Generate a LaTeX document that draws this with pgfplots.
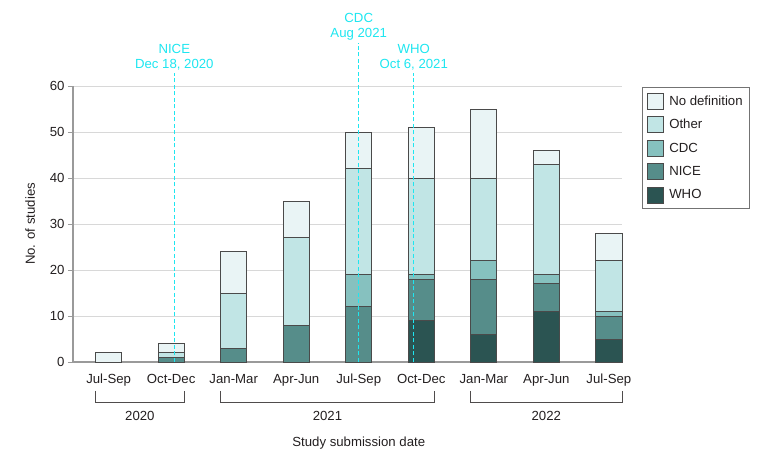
\documentclass[border=0pt]{standalone}
\usepackage{fontspec}
\setmainfont{Liberation Sans}
\usepackage{pgfplots}
\pgfplotsset{compat=1.18}
\usepackage{pgfplotstable}

\definecolor{cWHO}{HTML}{2B5452}
\definecolor{cNICE}{HTML}{568D8A}
\definecolor{cCDC}{HTML}{86C1BF}
\definecolor{cOther}{HTML}{C1E5E5}
\definecolor{cND}{HTML}{E9F4F5}
\definecolor{annot}{RGB}{30,230,240}
\definecolor{axisgray}{HTML}{9A9A9A}
\definecolor{gridgray}{HTML}{D8D8D8}
\definecolor{bargray}{HTML}{4A4A4A}
\definecolor{txt}{HTML}{231F20}

% counts per quarter, stacked bottom to top
\pgfplotstableread{
x WHO NICE CDC Other ND
0 0 0 0 0 2
1 0 1 0 1 2
2 0 3 0 12 9
3 0 8 0 19 8
4 0 12 7 23 8
5 9 9 1 21 11
6 6 12 4 18 15
7 11 6 2 24 3
8 5 5 1 11 6
}\studies

\newcommand{\lbl}{\fontsize{13.2bp}{15.5bp}\selectfont}

\begin{document}
\begin{tikzpicture}
\begin{axis}[
    at={(0,0)}, anchor=south west,
    scale only axis, width=549bp, height=276bp,
    xmin=-0.57, xmax=8.21, ymin=0, ymax=60,
    ybar stacked, bar width=0.42,
    axis x line=bottom, axis y line=left,
    axis line style={-, draw=axisgray, line width=1.6bp},
    xtick={0,...,8},
    xticklabels={Jul-Sep,Oct-Dec,Jan-Mar,Apr-Jun,Jul-Sep,Oct-Dec,Jan-Mar,Apr-Jun,Jul-Sep},
    x tick style={draw=none},
    xticklabel style={yshift=-3.5bp},
    ytick={0,10,...,60},
    y tick style={draw=axisgray, line width=1bp},
    tick align=outside, major tick length=5bp,
    ymajorgrids, grid style={draw=gridgray, line width=0.9bp},
    font=\lbl, text=txt,
    /pgf/number format/assume math mode=true,
    clip=false,
    reverse legend,
    legend style={at={(1.0364,0.9964)}, anchor=north west, draw=black!55,
        line width=0.9bp, row sep=6.6bp, inner xsep=5bp, inner ysep=5.5bp,
        font=\lbl, cells={anchor=west}},
    legend image code/.code={\draw[#1, line width=0.8bp] (0bp,-8bp) rectangle (16bp,8bp);
        \path (19bp,0bp);},
    every axis plot/.append style={draw=bargray, line width=0.9bp},
]
\addplot[fill=cWHO] table[x=x, y=WHO] {\studies};
\addplot[fill=cNICE] table[x=x, y=NICE] {\studies};
\addplot[fill=cCDC] table[x=x, y=CDC] {\studies};
\addplot[fill=cOther] table[x=x, y=Other] {\studies};
\addplot[fill=cND] table[x=x, y=ND] {\studies};
\legend{WHO,NICE,CDC,Other,No definition}

% guideline dates, drawn after the axis so they sit on top of the bars
\coordinate (niceB) at (axis cs:1.05,0);
\coordinate (niceT) at (axis cs:1.05,62.8);
\coordinate (cdcB) at (axis cs:4.0,0);
\coordinate (cdcT) at (axis cs:4.0,69.3);
\coordinate (whoB) at (axis cs:4.88,0);
\coordinate (whoT) at (axis cs:4.88,62.8);

% year brackets
\draw[txt!80, line width=0.9bp] (axis cs:-0.21,-6.3) -- (axis cs:-0.21,-8.9) -- (axis cs:1.21,-8.9) -- (axis cs:1.21,-6.3);
\draw[txt!80, line width=0.9bp] (axis cs:1.79,-6.3) -- (axis cs:1.79,-8.9) -- (axis cs:5.21,-8.9) -- (axis cs:5.21,-6.3);
\draw[txt!80, line width=0.9bp] (axis cs:5.79,-6.3) -- (axis cs:5.79,-8.9) -- (axis cs:8.21,-8.9) -- (axis cs:8.21,-6.3);
\node[text=txt, font=\lbl] at (axis cs:0.5,-11.7) {2020};
\node[text=txt, font=\lbl] at (axis cs:3.5,-11.7) {2021};
\node[text=txt, font=\lbl] at (axis cs:7,-11.7) {2022};
\node[text=txt, font=\lbl] at (axis cs:4,-17.6) {Study submission date};
\node[text=txt, font=\lbl, rotate=90] at (axis cs:-1.254,30) {No. of studies};
\end{axis}
\tikzset{guide/.style={annot, line width=1.3bp, dash pattern=on 4bp off 2.5bp}}
\draw[guide] (niceB) -- (niceT)
    node[above, align=center, text=annot, font=\lbl, inner sep=2bp] {NICE\\Dec 18, 2020};
\draw[guide] (cdcB) -- (cdcT)
    node[above, align=center, text=annot, font=\lbl, inner sep=2bp] {CDC\\Aug 2021};
\draw[guide] (whoB) -- (whoT)
    node[above, align=center, text=annot, font=\lbl, inner sep=2bp] {WHO\\Oct 6, 2021};
\pgfresetboundingbox
\path[use as bounding box] (-73bp,-90bp) rectangle (707bp,362bp);
\end{tikzpicture}
\end{document}
